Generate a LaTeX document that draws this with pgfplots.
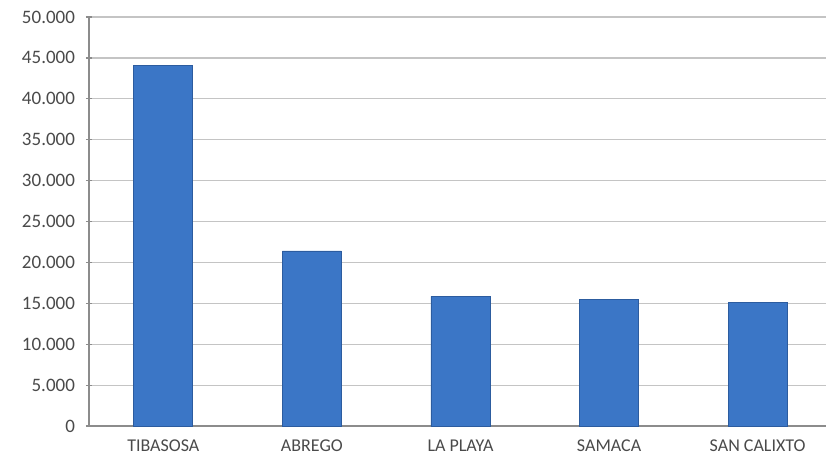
\documentclass[border=0pt]{standalone}
\usepackage{pgfplots}
\pgfplotsset{compat=1.18}
\usepackage{fontspec}
\setmainfont{Carlito}
\usetikzlibrary{calc}

\definecolor{barfill}{HTML}{3B76C6}
\definecolor{baredge}{HTML}{2C5C9F}
\definecolor{gridgray}{HTML}{C4C4C4}
\definecolor{axisgray}{HTML}{8C8C8C}
\definecolor{labelgray}{HTML}{4A4A4A}

\begin{document}
\begin{tikzpicture}
  \begin{axis}[
    name=ax,
    scale only axis,
    width=368.5pt,
    height=204.5pt,
    ybar,
    bar width=29.5pt,
    xmin=-0.5, xmax=4.46,
    ymin=0, ymax=50000,
    ytick distance=5000,
    xtick={0,1,2,3,4},
    xticklabels={TIBASOSA,ABREGO,LA PLAYA,SAMACA,SAN CALIXTO},
    extra x ticks={-0.5,0.5,1.5,2.5,3.5},
    extra x tick labels={},
    extra x tick style={major tick length=3pt, tick style={axisgray, line width=0.6pt}, grid=none},
    x tick style={draw=none},
    y tick style={axisgray, line width=0.6pt},
    tick align=outside,
    major tick length=3pt,
    axis lines=left,
    axis line style={-, draw=axisgray, line width=0.6pt},
    ymajorgrids,
    grid style={gridgray, line width=0.6pt},
    scaled y ticks=false,
    /pgf/number format/.cd, use comma, 1000 sep={.}, min exponent for 1000 sep=0, assume math mode=true,
    /pgfplots/.cd,
    yticklabel style={font=\fontsize{9.5}{11}\selectfont, text=labelgray, xshift=-2pt},
    xticklabel style={font=\fontsize{9}{11}\selectfont, text=labelgray, yshift=-2pt},
  ]
    \addplot[draw=baredge, line width=0.4pt, fill=barfill]
      coordinates {(0,44100) (1,21400) (2,15850) (3,15500) (4,15050)};
  \end{axis}
  \pgfresetboundingbox
  \path[use as bounding box] ($(ax.south west)+(-44.5pt,-17.5pt)$) rectangle ($(ax.north east)+(0pt,8.5pt)$);
\end{tikzpicture}
\end{document}
